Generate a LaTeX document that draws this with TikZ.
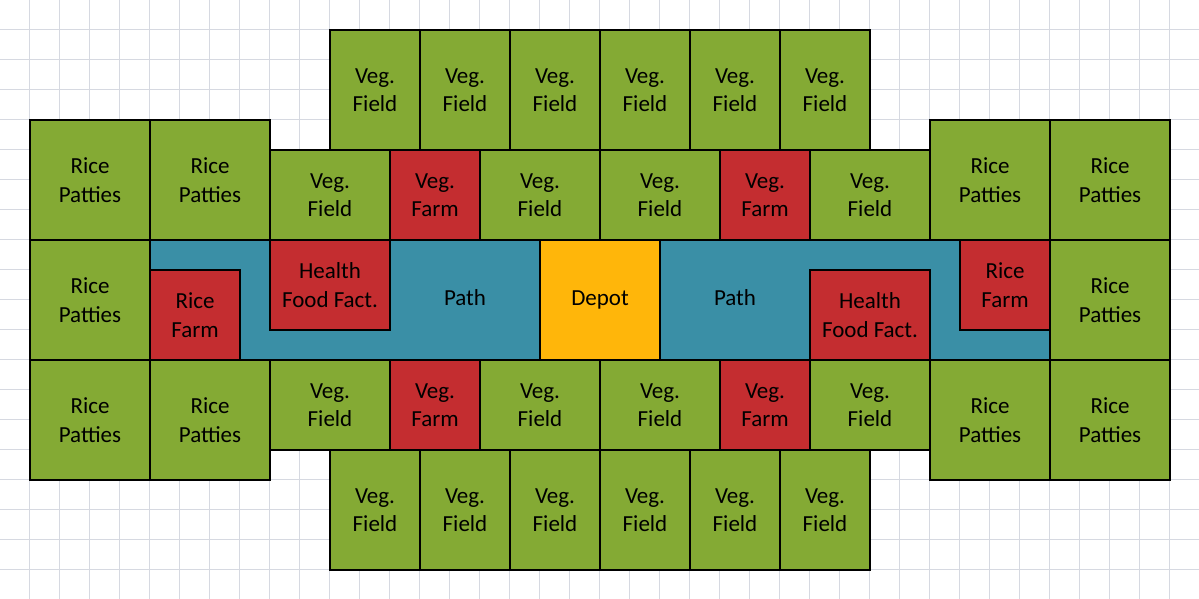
\documentclass[tikz,border=0pt]{standalone}
\usepackage{fontspec}
\setmainfont{Carlito}
\usetikzlibrary{positioning}
\definecolor{fieldgreen}{RGB}{132,170,52}
\definecolor{farmred}{RGB}{196,45,48}
\definecolor{pathblue}{RGB}{58,143,166}
\definecolor{depotorange}{RGB}{255,182,10}
\definecolor{gridgray}{RGB}{214,217,225}
\tikzset{
	x=1pt, y=-1pt,
	tile/.style = {
			rectangle,
			draw            = black,
			line width      = 1.2pt,
			anchor          = north west,
			inner sep       = 0pt,
			outer sep       = 0pt,
			align           = center,
			font            = \fontsize{23}{28.5}\selectfont,
		},
	size/.style 2 args = {minimum width=#1, minimum height=#2},
	field/.style = {tile, fill=fieldgreen},
	farm/.style  = {tile, fill=farmred},
	depot/.style = {tile, fill=depotorange},
	lane/.style  = {draw=black, line width=1.2pt, fill=pathblue},
	label/.style = {font=\fontsize{23}{28.5}\selectfont},
}

\begin{document}
\begin{tikzpicture}
        \useasboundingbox (0,0) rectangle (1199,599);
        % background grid
        \foreach \i in {1,...,39}
          \draw[gridgray, line width=0.9pt] (30*\i-0.5,0) -- (30*\i-0.5,599);
        \foreach \j in {1,...,19}
          \draw[gridgray, line width=0.9pt] (0,30*\j-0.5) -- (1199,30*\j-0.5);
        % top and bottom veg fields
        \foreach \k in {0,...,5} {
          \node[field, size={90}{120}] at (330+90*\k,30) (top\k) {Veg.\\Field};
          \node[field, size={90}{120}] at (330+90*\k,450) (bot\k) {Veg.\\Field};
        }
        % second row
        \node[field, size={120}{120}] at (30,120) (rpa) {Rice\\Patties};
        \node[field, size={120}{120}] at (150,120) (rpb) {Rice\\Patties};
        \node[field, size={120}{90}] at (270,150) (vfa) {Veg.\\Field};
        \node[farm, size={90}{90}] at (390,150) (vma) {Veg.\\Farm};
        \node[field, size={120}{90}] at (480,150) (vfb) {Veg.\\Field};
        \node[field, size={120}{90}] at (600,150) (vfc) {Veg.\\Field};
        \node[farm, size={90}{90}] at (720,150) (vmb) {Veg.\\Farm};
        \node[field, size={120}{90}] at (810,150) (vfd) {Veg.\\Field};
        \node[field, size={120}{120}] at (930,120) (rpc) {Rice\\Patties};
        \node[field, size={120}{120}] at (1050,120) (rpd) {Rice\\Patties};
        % middle row
        \node[field, size={120}{120}] at (30,240) (rpe) {Rice\\Patties};
        \draw[lane] (150,240) rectangle (540,360);
        \draw[lane] (660,240) rectangle (1050,360);
        \node[farm, size={90}{90}] at (150,270) (rfa) {Rice\\Farm};
        \node[farm, size={120}{90}] at (270,240) (hfa) {Health\\Food Fact.};
        \node[label] at (465,298) (pa) {Path};
        \node[depot, size={120}{120}] at (540,240) (dp) {Depot};
        \node[label] at (735,298) (pb) {Path};
        \node[farm, size={120}{90}] at (810,270) (hfb) {Health\\Food Fact.};
        \node[farm, size={90}{90}] at (960,240) (rfb) {Rice\\Farm};
        \node[field, size={120}{120}] at (1050,240) (rpf) {Rice\\Patties};
        % fourth row
        \node[field, size={120}{120}] at (30,360) (rpg) {Rice\\Patties};
        \node[field, size={120}{120}] at (150,360) (rph) {Rice\\Patties};
        \node[field, size={120}{90}] at (270,360) (vfe) {Veg.\\Field};
        \node[farm, size={90}{90}] at (390,360) (vmc) {Veg.\\Farm};
        \node[field, size={120}{90}] at (480,360) (vff) {Veg.\\Field};
        \node[field, size={120}{90}] at (600,360) (vfg) {Veg.\\Field};
        \node[farm, size={90}{90}] at (720,360) (vmd) {Veg.\\Farm};
        \node[field, size={120}{90}] at (810,360) (vfh) {Veg.\\Field};
        \node[field, size={120}{120}] at (930,360) (rpi) {Rice\\Patties};
        \node[field, size={120}{120}] at (1050,360) (rpj) {Rice\\Patties};
      \end{tikzpicture}
\end{document}
